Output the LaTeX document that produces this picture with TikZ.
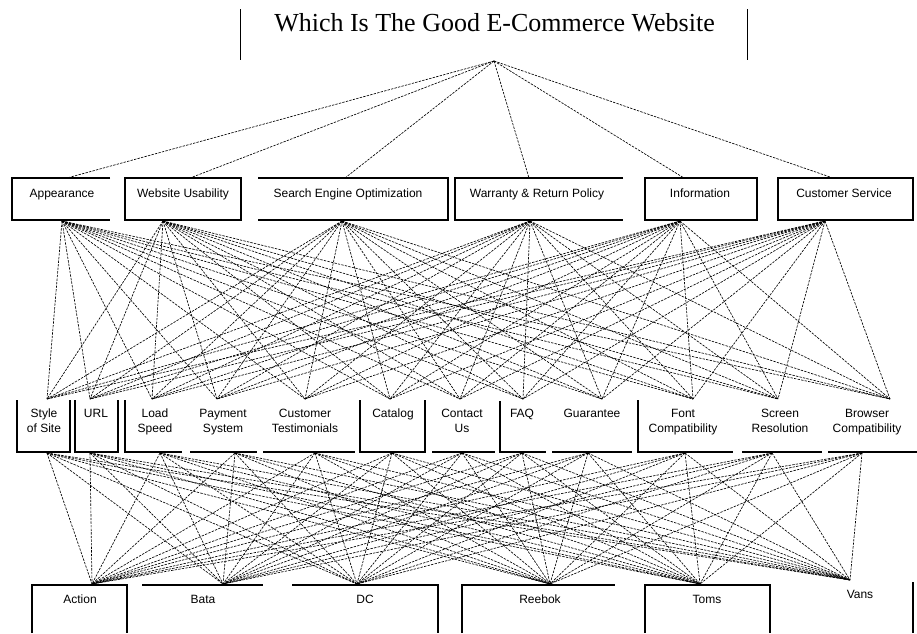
\documentclass[tikz,border=0pt]{standalone}
\usepackage{fontspec}
\setmainfont{Liberation Sans}
\newfontfamily\titlefont{Liberation Serif}
\begin{document}
\begin{tikzpicture}[x=1pt,y=-1pt,
  lbl/.style={font=\fontsize{12}{15.5}\selectfont, align=center, inner sep=0pt, anchor=base},
  conn/.style={line width=0.65pt, dash pattern=on 2.4pt off 1.2pt},
  boxline/.style={line width=1.1pt},
  barline/.style={line width=1pt}]
\useasboundingbox (0,0) rectangle (917,633);

% title
\node[font=\titlefont\fontsize{26}{30}\selectfont, inner sep=0pt, anchor=base] (title) at (494.5,31) {Which Is The Good E-Commerce Website};
\draw[barline] (240,9) -- (240,60);
\draw[barline] (747,9) -- (747,60);
\coordinate (goal) at (494,61);

% coordinates
\foreach \x [count=\i] in {67,190,345,529,684,833} \coordinate (ct\i) at (\x,178);
\foreach \x [count=\i] in {62,163,342,530,680,825} \coordinate (cb\i) at (\x,221);
\foreach \x [count=\i] in {47,90,152,217,305,390,460,523,602,693,778,890} \coordinate (st\i) at (\x,399);
\foreach \x [count=\i] in {47,90,160,235,315,392,462,522,588,685,772,862} \coordinate (sb\i) at (\x,453);
\foreach \x [count=\i] in {92,223,357,550,700} \coordinate (at\i) at (\x,584);
\coordinate (at6) at (850,580);

% connectors
\foreach \i in {1,...,6} \draw[conn] (goal) -- (ct\i);
\foreach \i in {1,...,6} \foreach \j in {1,...,12} \draw[conn] (cb\i) -- (st\j);
\foreach \i in {1,...,12} \foreach \j in {1,...,6} \draw[conn] (sb\i) -- (at\j);

% criteria boxes
\draw[boxline] (110,178) -- (12,178) -- (12,220) -- (110,220);
\draw[boxline] (125,178) rectangle (241,220);
\draw[boxline] (258,178) -- (448,178) -- (448,220) -- (258,220);
\draw[boxline] (623,178) -- (455,178) -- (455,220) -- (623,220);
\draw[boxline] (645,178) rectangle (757,220);
\draw[boxline] (778,178) rectangle (913,220);

\node[lbl] (crit1) at (62,197) {Appearance};
\node[lbl] (crit2) at (183,197) {Website Usability};
\node[lbl] (crit3) at (348,197) {Search Engine Optimization};
\node[lbl] (crit4) at (537,197) {Warranty \& Return Policy};
\node[lbl] (crit5) at (700,197) {Information};
\node[lbl] (crit6) at (844,197) {Customer Service};

% sub-criteria boxes
\draw[boxline] (17,400) -- (17,452) -- (70,452) -- (70,400);
\draw[boxline] (75,400) -- (75,452) -- (118,452) -- (118,400);
\draw[boxline] (125,400) -- (125,452) -- (182,452);
\draw[boxline] (190,452) -- (257,452);
\draw[boxline] (263,452) -- (355,452);
\draw[boxline] (360,400) -- (360,452) -- (425,452) -- (425,400);
\draw[boxline] (432,452) -- (495,452);
\draw[boxline] (500,401) -- (500,452) -- (546,452);
\draw[boxline] (552,452) -- (632,452);
\draw[boxline] (638,400) -- (638,452) -- (733,452);
\draw[boxline] (742,452) -- (822,452);
\draw[boxline] (828,452) -- (917,452);

\node[lbl, anchor=north] (sub1) at (44,406) {\strut Style\\of Site};
\node[lbl, anchor=north] (sub2) at (96,406) {\strut URL};
\node[lbl, anchor=north] (sub3) at (155,406) {\strut Load\\Speed};
\node[lbl, anchor=north] (sub4) at (223,406) {\strut Payment\\System};
\node[lbl, anchor=north] (sub5) at (305,406) {\strut Customer\\Testimonials};
\node[lbl, anchor=north] (sub6) at (393,406) {\strut Catalog};
\node[lbl, anchor=north] (sub7) at (462,406) {\strut Contact\\Us};
\node[lbl, anchor=north] (sub8) at (522,406) {\strut FAQ};
\node[lbl, anchor=north] (sub9) at (592,406) {\strut Guarantee};
\node[lbl, anchor=north] (sub10) at (683,406) {\strut Font\\Compatibility};
\node[lbl, anchor=north] (sub11) at (780,406) {\strut Screen\\Resolution};
\node[lbl, anchor=north] (sub12) at (867,406) {\strut Browser\\Compatibility};

% alternative boxes
\draw[boxline] (32,633) -- (32,585) -- (127,585) -- (127,633);
\draw[boxline] (142,585) -- (263,585);
\draw[boxline] (292,585) -- (438,585) -- (438,633);
\draw[boxline] (462,633) -- (462,585) -- (615,585);
\draw[boxline] (645,633) -- (645,585) -- (770,585) -- (770,633);
\draw[boxline] (913,582) -- (913,633);

\node[lbl] (alt1) at (80,603) {Action};
\node[lbl] (alt2) at (203,603) {Bata};
\node[lbl] (alt3) at (365,603) {DC};
\node[lbl] (alt4) at (540,603) {Reebok};
\node[lbl] (alt5) at (707,603) {Toms};
\node[lbl] (alt6) at (860,598) {Vans};
\end{tikzpicture}
\end{document}
